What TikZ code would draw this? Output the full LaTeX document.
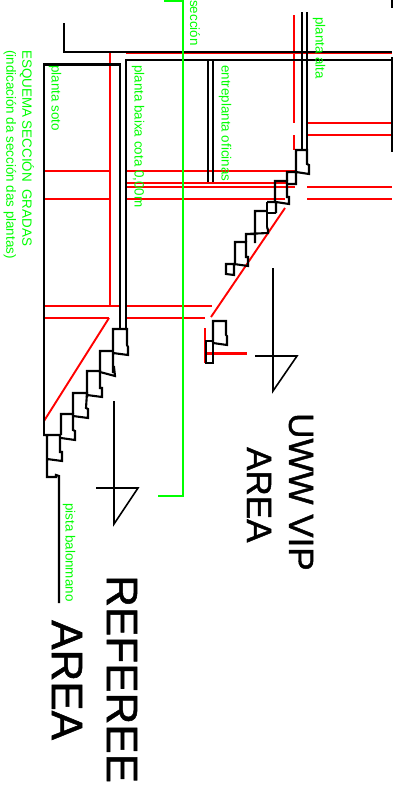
\documentclass[tikz,border=0pt]{standalone}
\usepackage{fontspec}
\setmainfont{Liberation Sans}
\newfontfamily\bigfont[FakeBold=1.2]{Liberation Sans}
\definecolor{gr}{RGB}{0,255,0}
\tikzset{
 blk/.style={black,line width=2.1pt,line join=miter},
 thn/.style={black,line width=1.6pt},
 rd/.style={red,line width=1.9pt},
 rdthick/.style={red,line width=3pt},
 grn/.style={gr,line width=2.2pt},
 lab/.style={gr,rotate=-90,anchor=west,inner sep=0pt,font=\fontsize{13.4}{14}\selectfont},
 big/.style={black,rotate=-90,anchor=west,inner sep=0pt}
}
\begin{document}
\begin{tikzpicture}[x=1pt,y=-1pt]
\useasboundingbox (0,0) rectangle (414,787);
% red lines
\draw[rd] (126,53)--(392,53);
\draw[rd] (110,52)--(110,306);
\draw[rd] (44,171)--(110,171) (126,171)--(296,171);
\draw[rd] (44,199)--(110,199) (126,199)--(285,199);
\draw[rd] (126,183)--(287,183);
\draw[rd] (126,187)--(295,187);
\draw[rd] (307,187)--(392,187) (307,199)--(392,199);
\draw[rd] (307,123)--(392,123) (307,135)--(392,135);
\draw[rd] (294,15)--(294,123) (294,135)--(294,150);
\draw[rd] (44,306)--(120,306) (126,306)--(212,306);
\draw[rd] (44,318)--(109,318) (126,318)--(205,318);
\draw[rd] (109,318)--(44,421);
\draw[rd] (285,208)--(211,317);
\draw[rd] (205,328)--(205,363);
\draw[rdthick] (205,353)--(247,353);
% black frame
\draw[blk] (64,23)--(64,52)--(392,52);
\draw[thn] (126,329)--(126,60)--(392,60);
\draw[blk] (44,435)--(44,64.5)--(120,64.5)--(120,329);
\draw[thn] (208,60)--(208,182) (213,60)--(213,182);
\draw[thn] (302,12)--(302,150) (307,12)--(307,150);
\draw[blk] (392,0)--(392,8) (392,57)--(392,152);
% upper stair
\draw[blk] (287,181)--(287,172)--(296,172)--(296,150)--(307,150)--(307,164)--(309,165)--(309,174)--(296,172)--(296,184)--(287,184);
\draw[blk] (267,202)--(275,202)--(275,181)--(287,181)--(287,197)--(289,197)--(289,204)--(276,202)--(276,213);
\draw[blk] (267,227)--(267,202) (276,213)--(267,213);
\draw[blk] (246,234)--(255,234)--(255,211)--(267,211) (267,227)--(268,230)--(268,233)--(246,234)--(246,242) (255,234)--(255,243);
\draw[blk] (226,264)--(235,264)--(235,242)--(246,242)--(246,257)--(248,257)--(248,266)--(234,264)--(234,275)--(226,274)--cycle;
% upper landing piece
\draw[blk] (213,343)--(213,321)--(226,321)--(226,335)--(227,336)--(227,345)--(213,343);
\draw[blk] (206,341)--(213,341)--(213,363)--(206,363)--cycle;
% lower stair
\draw[blk] (113,373)--(113,329)--(127,329)--(127,345)--(128,347)--(128,355)--(113,353);
\draw[blk] (100,372)--(100,351)--(113,351) (113,367)--(114,367)--(115,376)--(100,372) ;
\draw[blk] (87,397)--(87,371)--(100,371)--(100,388)--(102,388)--(102,397)--(87,395);
\draw[blk] (73,414)--(73,393)--(87,393)--(86,408)--(88,409)--(88,418)--(73,416);
\draw[blk] (61,435)--(61,414)--(73,414)--(73,430)--(75,431)--(75,440)--(61,438);
\draw[blk] (43,435)--(60,435)--(60,452)--(62,452)--(62,461)--(47,459) (47,435)--(47,477)--(56,477)--(56,475)--(59,476)--(59,603);
% symbols
\draw[thn] (273,268)--(273,391)--(297,356)--(255,356);
\draw[thn] (114,401)--(114,524)--(138,488)--(96,488);
% green section line
\draw[grn] (164,1)--(183,1)--(183,496)--(158,496);
% labels
\node[lab] (t1) at (27,50) {ESQUEMA SECCIÓN\ \ GRADAS};
\node[lab] (t2) at (10,50) {(indicación da sección das plantas)};
\node[lab] (t3) at (55,65) {planta soto};
\node[lab] (t4) at (138,65) {planta baixa cota 0,00m};
\node[lab] (t5) at (225,65) {entreplanta oficinas};
\node[lab] (t6) at (319,17) {planta alta};
\node[lab] (t7) at (195,0) {sección};
\node[lab] (t8) at (69,503) {pista balonmano};
\node[big,font=\bigfont\fontsize{35}{36}\selectfont] (t9) at (301,413) {UWW VIP};
\node[big,font=\bigfont\fontsize{35}{36}\selectfont] (t10) at (259,447) {AREA};
\node[big,font=\bigfont\fontsize{44}{45}\selectfont] (t11) at (122,575) {REFEREE};
\node[big,font=\bigfont\fontsize{44}{45}\selectfont] (t12) at (67,620) {AREA};
\end{tikzpicture}
\end{document}
